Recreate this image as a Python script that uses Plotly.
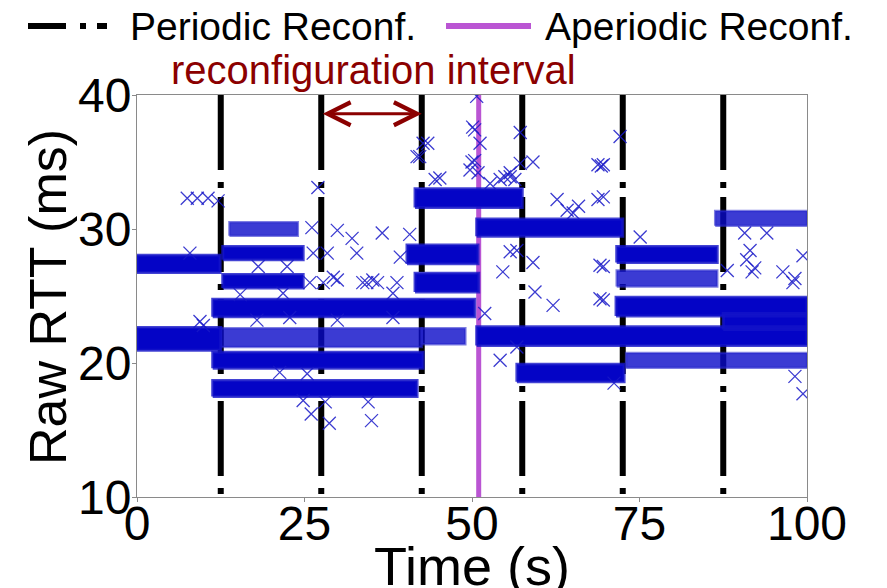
import plotly.graph_objects as go

# ---------------- data ----------------
periodic_reconf_s = [12.5, 27.5, 42.5, 57.5, 72.5, 87.5]
aperiodic_reconf_s = [51.0]
interval_start_s = 27.5
interval_end_s = 42.5
interval_rtt = 38.6

# dense bands of RTT samples: start time, end time, centre RTT, half spread (ms)
dense_band_start = [0.0, 0.0, 12.8, 12.8, 11.3, 11.3, 11.3, 41.5, 40.3, 41.5, 50.7, 50.7, 56.7, 71.6, 71.5, 87.5]
dense_band_end = [12.4, 12.5, 24.8, 24.8, 50.4, 42.7, 41.8, 57.5, 50.9, 51.0, 72.5, 100.0, 72.7, 86.6, 100.0, 100.0]
dense_band_rtt = [27.4, 21.8, 28.2, 26.1, 24.1, 20.2, 18.1, 32.3, 28.1, 26.0, 30.1, 22.0, 19.25, 28.1, 24.2, 23.1]
dense_band_spread = [0.65, 0.85, 0.5, 0.5, 0.65, 0.6, 0.6, 0.7, 0.7, 0.7, 0.65, 0.7, 0.65, 0.6, 0.7, 0.6]

# sparser bands (individual crosses visible)
sparse_band_start = [12.5, 13.8, 42.5, 71.6, 73.0, 86.3]
sparse_band_end = [42.5, 24.0, 49.0, 86.6, 100.0, 100.0]
sparse_band_rtt = [21.9, 30.0, 22.0, 26.3, 20.2, 30.8]
sparse_band_spread = [0.7, 0.5, 0.6, 0.6, 0.55, 0.55]

# isolated samples
outlier_time = [7.5, 9.0, 10.6, 12.1, 27.0, 29.9, 32.1, 32.8, 36.6, 39.3, 40.7, 41.8, 42.7,
                29.9, 33.7, 35.2, 35.9, 38.8, 26.3, 28.4, 26.1, 27.8, 29.3, 38.2,
                17.9, 22.8, 21.3, 25.4, 24.8, 28.1, 34.5, 38.2, 29.9, 18.1, 22.4, 15.4, 21.8, 25.8, 34.3,
                50.7, 50.4, 51.2, 50.4, 50.9, 49.7, 42.2, 43.4, 57.2, 57.2, 59.1, 68.8, 69.3, 69.6, 72.1,
                44.5, 45.2, 54.2, 55.7, 56.4, 52.7, 50.1, 50.0, 54.9, 55.7,
                62.7, 65.9, 68.8, 69.6, 64.2, 65.1,
                59.1, 59.4, 62.1, 69.1, 69.6, 69.1, 69.6, 54.6, 55.7, 56.7, 51.9, 54.2, 56.7,
                91.5, 91.8, 92.2, 96.4, 98.2, 99.4, 88.1, 90.7, 94.0, 91.0, 97.9, 98.2, 75.1,
                7.9, 9.4, 9.9, 26.0, 28.7, 35.0, 71.2, 99.4]
outlier_rtt = [32.3, 32.3, 32.3, 32.1, 33.1, 29.9, 29.3, 28.2, 29.7, 27.9, 29.6, 35.4, 36.4,
               26.2, 26.0, 26.2, 26.0, 26.0, 28.2, 28.2, 30.1, 26.0, 26.4, 25.2,
               23.2, 23.4, 19.3, 19.2, 17.2, 17.1, 17.1, 23.4, 23.2, 27.2, 27.2, 25.1, 25.2, 26.0, 26.0,
               39.9, 37.4, 36.4, 35.1, 34.2, 34.4, 35.4, 36.4, 37.2, 34.9, 35.0, 34.8, 34.7, 34.8, 36.9,
               33.7, 33.8, 33.7, 33.9, 33.7, 33.4, 37.6, 35.0, 33.9, 34.2,
               32.2, 31.7, 32.2, 32.4, 31.4, 31.2,
               27.5, 25.3, 24.3, 27.3, 27.2, 24.8, 24.7, 26.8, 28.3, 28.4, 23.7, 20.2, 21.2,
               28.4, 26.8, 27.1, 26.8, 26.3, 28.0, 26.9, 29.7, 29.7, 27.7, 26.0, 19.0, 29.4,
               28.2, 23.1, 22.8, 16.2, 15.5, 15.7, 18.5, 17.7]

x_ticks = [0, 25, 50, 75, 100]
y_ticks = [10, 20, 30, 40]
x_range = [0, 100]
y_range = [10, 40]

# ---------------- figure ----------------
W, H = 887, 588
OFF = 8                     # page body margin of the html output
ML, MR, MT, MB = 129, 88, 87, 99
PW, PH = W - ML - MR, H - MT - MB
FONT = "Liberation Sans, Arial, Helvetica, sans-serif"


def px_x(p):
    return (p - OFF - ML) / PW


def px_y(p):
    return (H - MB - (p - OFF)) / PH


def band_poly(starts, ends, rtts, spreads):
    xs, ys = [], []
    for s, e, r, h in zip(starts, ends, rtts, spreads):
        xs += [s, e, e, s, s, None]
        ys += [r - h, r - h, r + h, r + h, r - h, None]
    return xs, ys


fig = go.Figure()

for t in periodic_reconf_s:
    fig.add_trace(go.Scatter(x=[t, t], y=[y_range[1], y_range[0]], mode="lines",
                             line=dict(color="black", width=6, dash="75px,12px,6px,9px"),
                             showlegend=False, hoverinfo="skip"))
for t in aperiodic_reconf_s:
    fig.add_trace(go.Scatter(x=[t, t], y=[y_range[1], y_range[0]], mode="lines",
                             line=dict(color="#BA55D3", width=5),
                             showlegend=False, hoverinfo="skip"))

sx, sy = band_poly(sparse_band_start, sparse_band_end, sparse_band_rtt, sparse_band_spread)
fig.add_trace(go.Scatter(x=sx, y=sy, mode="lines", fill="toself",
                         fillcolor="rgba(10,10,200,0.8)",
                         line=dict(color="rgba(40,40,205,0.6)", width=2.5),
                         showlegend=False, hoverinfo="skip"))

dx, dy = band_poly(dense_band_start, dense_band_end, dense_band_rtt, dense_band_spread)
fig.add_trace(go.Scatter(x=dx, y=dy, mode="lines", fill="toself",
                         fillcolor="#0404C6",
                         line=dict(color="rgba(20,20,200,0.8)", width=3),
                         showlegend=False, hoverinfo="skip"))

fig.add_trace(go.Scatter(x=outlier_time, y=outlier_rtt, mode="markers",
                         marker=dict(symbol="x-thin", size=13,
                                     line=dict(width=1.3, color="rgba(25,25,200,0.85)")),
                         showlegend=False, hoverinfo="skip"))

shapes = [
    dict(type="line", xref="paper", yref="paper", x0=px_x(28), x1=px_x(107), y0=px_y(26), y1=px_y(26),
         line=dict(color="black", width=6, dash="38px,14px,6px,11px")),
    dict(type="line", xref="paper", yref="paper", x0=px_x(446), x1=px_x(531), y0=px_y(26), y1=px_y(26),
         line=dict(color="#BA55D3", width=6)),
]

annotations = [
    dict(text="Periodic Reconf.", xref="paper", yref="paper", x=px_x(128), y=px_y(26),
         xanchor="left", yanchor="middle", showarrow=False, font=dict(size=39, color="black", family=FONT)),
    dict(text="Aperiodic Reconf.", xref="paper", yref="paper", x=px_x(543), y=px_y(26),
         xanchor="left", yanchor="middle", showarrow=False, font=dict(size=39, color="black", family=FONT)),
    dict(text="reconfiguration interval", xref="paper", yref="paper", x=px_x(373), y=px_y(70),
         xanchor="center", yanchor="middle", showarrow=False, font=dict(size=40, color="#8B0000", family=FONT)),
    dict(text="Raw RTT (ms)", xref="paper", yref="paper", x=px_x(48), y=px_y(297),
         xanchor="center", yanchor="middle", textangle=-90, showarrow=False,
         font=dict(size=52, color="black", family=FONT)),
    dict(x=interval_end_s, y=interval_rtt, ax=interval_start_s, ay=interval_rtt,
         xref="x", yref="y", axref="x", ayref="y", text="", showarrow=True,
         arrowhead=5, startarrowhead=5, arrowside="end+start", arrowsize=1.5, startarrowsize=1.5,
         arrowwidth=3, arrowcolor="#8B0000", standoff=0, startstandoff=0),
]

fig.update_layout(
    width=W, height=H,
    margin=dict(l=ML, r=MR, t=MT, b=MB, autoexpand=False),
    paper_bgcolor="white", plot_bgcolor="white",
    font=dict(family=FONT, color="black"),
    showlegend=False,
    shapes=shapes,
    annotations=annotations,
)
fig.update_xaxes(range=x_range, tickvals=x_ticks, ticktext=[str(v) for v in x_ticks],
                 showgrid=False, zeroline=False, showline=True, mirror=True,
                 linecolor="#8a8a8a", linewidth=1, ticks="outside", ticklen=4, tickcolor="#8a8a8a",
                 ticklabelstandoff=-20,
                 tickfont=dict(size=48, family=FONT, color="black"),
                 title=dict(text="Time (s)", font=dict(size=54, family=FONT, color="black"), standoff=0))
fig.update_yaxes(range=y_range, tickvals=y_ticks, ticktext=[str(v) for v in y_ticks],
                 showgrid=False, zeroline=False, showline=True, mirror=True,
                 linecolor="#8a8a8a", linewidth=1, ticks="outside", ticklen=4, tickcolor="#8a8a8a",
                 ticklabelstandoff=-9,
                 tickfont=dict(size=48, family=FONT, color="black"))

fig.write_html("out.html")
